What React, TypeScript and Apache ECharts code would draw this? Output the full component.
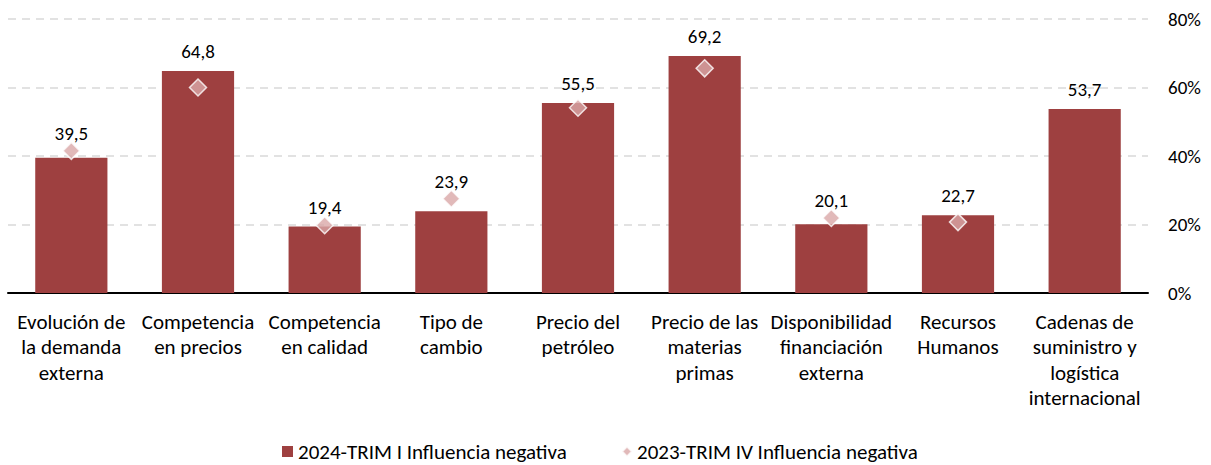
import React, { useEffect, useRef } from "react";
import * as echarts from "echarts";

const categories = [
  "Evolución de\nla demanda\nexterna",
  "Competencia\nen precios",
  "Competencia\nen calidad",
  "Tipo de\ncambio",
  "Precio del\npetróleo",
  "Precio de las\nmaterias\nprimas",
  "Disponibilidad\nfinanciación\nexterna",
  "Recursos\nHumanos",
  "Cadenas de\nsuministro y\nlogística\ninternacional",
];
const series2024 = [39.5, 64.8, 19.4, 23.9, 55.5, 69.2, 20.1, 22.7, 53.7];
const series2023 = [41.5, 60.0, 19.8, 27.5, 54.1, 65.6, 21.9, 20.7, null];
const name2024 = "2024-TRIM I Influencia negativa";
const name2023 = "2023-TRIM IV Influencia negativa";
const yTicks = { min: 0, max: 80, interval: 20 };

const FONT = "Carlito, 'Open Sans', 'Noto Sans', sans-serif";
const GRID_TOP = 19;
const GRID_BOTTOM = 172;
const CHART_H = 465;

export default function App() {
  const ref = useRef<HTMLDivElement>(null);
  useEffect(() => {
    document.body.style.margin = "0";
    const chart = echarts.init(ref.current!, null, { renderer: "svg" });
    const pxPerUnit = (CHART_H - GRID_TOP - GRID_BOTTOM) / (yTicks.max - yTicks.min);
    const barData = series2024.map((v, i) => {
      const d = series2023[i];
      const extra = d != null && d > v ? Math.max(0, (d - v) * pxPerUnit - 2) : 0;
      return { value: v, label: { distance: 10 + extra } };
    });
    chart.setOption({
      animation: false,
      textStyle: { fontFamily: FONT },
      grid: { left: 8, right: 63, top: GRID_TOP, bottom: GRID_BOTTOM },
      legend: [
        {
          data: [{ name: name2024, icon: "rect" }],
          left: 277,
          top: 436,
          itemWidth: 11,
          itemHeight: 11,
          textStyle: { fontSize: 21, color: "#000", fontFamily: FONT },
        },
        {
          data: [{ name: name2023, icon: "diamond" }],
          left: 616,
          top: 436,
          itemWidth: 10,
          itemHeight: 10,
          textStyle: { fontSize: 21, color: "#000", fontFamily: FONT },
        },
      ],
      xAxis: {
        type: "category",
        data: categories,
        axisLine: { lineStyle: { color: "#000", width: 2 } },
        axisTick: { show: false },
        axisLabel: {
          interval: 0,
          color: "#000",
          fontSize: 21,
          lineHeight: 25.5,
          margin: 16,
          fontFamily: FONT,
        },
      },
      yAxis: {
        type: "value",
        position: "right",
        min: yTicks.min,
        max: yTicks.max,
        interval: yTicks.interval,
        axisLine: { show: false },
        axisTick: { show: false },
        axisLabel: {
          formatter: "{value}%",
          color: "#000",
          fontSize: 19,
          margin: 20,
          fontFamily: FONT,
        },
        splitLine: { lineStyle: { color: "#D9D9D9", type: [8, 6], width: 1.5 } },
      },
      series: [
        {
          name: name2024,
          type: "bar",
          data: barData,
          barWidth: "57%",
          itemStyle: { color: "#9E4040" },
          label: {
            show: true,
            position: "top",
            distance: 10,
            color: "#000",
            fontSize: 19,
            fontFamily: FONT,
            formatter: (p: any) => Number(p.value).toFixed(1).replace(".", ","),
          },
          z: 2,
        },
        {
          name: name2023,
          type: "scatter",
          data: series2023,
          symbol: "diamond",
          symbolSize: 17,
          itemStyle: { color: "#D9A7A7", borderColor: "#fff", borderWidth: 1.5 },
          z: 3,
        },
      ],
    });
    return () => chart.dispose();
  }, []);
  return <div ref={ref} style={{ width: 1211, height: 465 }} />;
}
